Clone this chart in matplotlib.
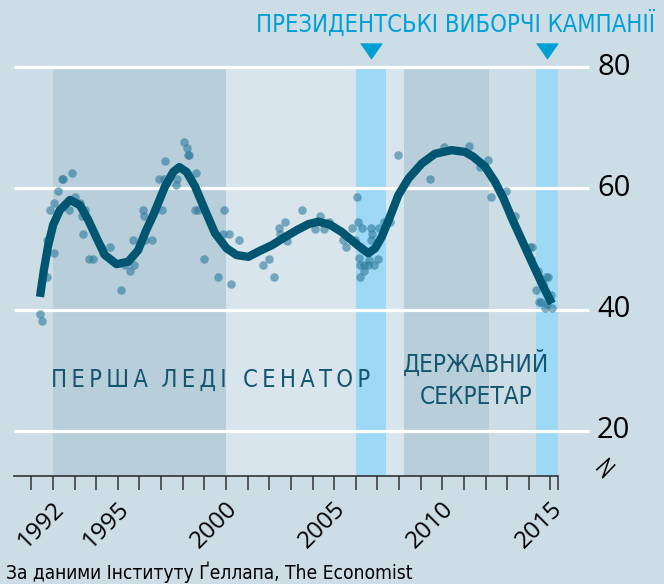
import matplotlib
matplotlib.use("Agg")
import matplotlib.pyplot as plt
from matplotlib import font_manager
from matplotlib.font_manager import FontProperties
from matplotlib.transforms import ScaledTranslation

# polling points (Gallup favourability)
poll_years = [1991.40, 1991.50, 1991.71, 1991.71, 1991.88, 1992.05, 1992.06, 1992.23,
              1992.43, 1992.47, 1992.89, 1992.74, 1993.02, 1993.25, 1993.48, 1993.33,
              1993.37, 1993.68, 1993.84, 1994.20, 1994.64, 1994.33, 1995.33, 1995.56,
              1995.75, 1995.71, 1995.14,
              1996.15, 1996.21, 1997.05, 1996.27, 1996.59, 1996.91, 1997.13, 1997.18,
              1997.69, 1997.75, 1998.06, 1998.18, 1998.24, 1998.28, 1998.61, 1998.56,
              1998.72, 1998.99, 1999.64, 1999.92, 1999.87, 2000.12, 2000.22, 2000.61,
              2001.72, 2001.99, 2002.22, 2002.45, 2002.50, 2002.71, 2002.80, 2003.53,
              2004.13, 2004.35, 2004.53, 2004.78, 2005.42, 2005.53, 2005.81, 2006.05,
              2006.10, 2006.30, 2006.70, 2007.07, 2006.76, 2006.69, 2007.32, 2007.58,
              2006.15, 2006.18, 2006.39, 2006.55, 2006.86, 2007.04, 2006.37, 2006.21,
              2006.60, 2006.24, 2005.96, 2007.94,
              2009.42, 2010.10, 2011.22, 2011.74, 2012.11, 2012.25, 2012.94, 2013.36,
              2014.06, 2014.15, 2014.09, 2014.44, 2014.80, 2014.67, 2014.33, 2015.01,
              2014.45, 2014.55, 2014.83, 2014.75, 2015.06, 2014.90]
poll_values = [39.3, 38.2, 45.3, 51.5, 56.4, 49.4, 57.5, 59.5,
               61.5, 61.5, 62.6, 56.4, 58.5, 57.5, 56.5, 55.4,
               52.4, 48.4, 48.4, 50.4, 50.4, 49.4, 47.4, 46.4,
               47.4, 51.5, 43.2,
               56.5, 55.4, 56.5, 51.4, 51.4, 61.5, 61.5, 64.5,
               60.5, 61.5, 67.6, 66.6, 65.5, 65.5, 62.6, 56.5,
               56.5, 48.4, 45.3, 56.5, 52.4, 52.4, 44.3, 51.4,
               47.4, 48.4, 45.3, 53.4, 52.4, 54.5, 51.3, 56.5,
               53.3, 55.4, 53.3, 54.5, 51.4, 50.4, 53.4, 58.5,
               54.5, 53.4, 53.4, 53.4, 52.4, 51.4, 54.5, 54.5,
               48.5, 47.4, 47.4, 47.4, 47.4, 48.4, 46.4, 45.3,
               48.2, 50.4, 51.5, 65.5,
               61.5, 66.8, 66.9, 63.6, 64.6, 58.5, 59.5, 55.4,
               50.4, 50.4, 48.4, 46.4, 45.3, 44.3, 43.3, 42.4,
               41.3, 41.3, 41.0, 40.2, 40.2, 45.3]

# smoothed trend
trend_years = [1991.40, 1991.58, 1991.78, 1992.01, 1992.32, 1992.79, 1993.25, 1993.63,
               1994.02, 1994.40, 1994.94, 1995.48, 1995.94, 1996.30, 1996.64, 1997.18,
               1997.56, 1997.84, 1998.18, 1998.57, 1999.03, 1999.49, 2000.03, 2000.49,
               2001.03, 2001.57, 2002.11, 2002.65, 2003.27, 2003.81, 2004.27, 2004.81,
               2005.35, 2005.89, 2006.27, 2006.58, 2006.89, 2007.20, 2007.58, 2007.97,
               2008.43, 2009.05, 2009.66, 2010.43, 2011.05, 2011.43, 2011.97, 2012.43,
               2012.82, 2013.21, 2013.67, 2014.13, 2014.60, 2015.06]
trend_values = [42.1, 46.5, 50.6, 54.0, 56.4, 58.1, 57.2, 54.8,
                51.8, 49.0, 47.5, 47.9, 49.8, 53.0, 55.6, 60.3,
                62.7, 63.5, 62.7, 60.3, 56.4, 52.6, 50.1, 49.0,
                48.7, 49.7, 50.6, 51.8, 53.1, 54.1, 54.5, 54.0,
                52.8, 51.2, 50.1, 49.3, 50.1, 52.0, 55.3, 58.9,
                61.6, 64.1, 65.7, 66.3, 66.0, 65.2, 63.6, 61.1,
                58.4, 55.1, 51.5, 47.9, 44.3, 41.0]

# shaded periods: (start, end, colour key)
periods = [(1992.0, 2000.0, "dark"), (2000.0, 2008.23, "light"),
           (2008.23, 2012.16, "dark"), (2006.0, 2007.4, "blue"), (2014.33, 2015.35, "blue")]
campaign_mid = [2006.7, 2014.84]
yticks = [20, 40, 60, 80]
year_ticks = list(range(1991, 2016))
year_labels = {1992: "1992", 1995: "1995", 2000: "2000", 2005: "2005", 2010: "2010", 2015: "2015"}

BG = "#cddde6"
band_colors = {"dark": "#b8cfdb", "light": "#d9e5ed", "blue": "#9dd9f5"}
LINE = "#005670"
DOT = "#2f7b9c"
LABEL = "#15566f"
CYAN = "#00a0d6"


def narrow_font(size):
    # look for any installed condensed / narrow sans face
    cands = []
    for f in font_manager.fontManager.ttflist:
        fn = f.fname.lower()
        if ("narrow" in fn or "condensed" in fn or f.stretch in ("condensed", "semi-condensed")) \
                and "bold" not in fn and "italic" not in fn and "oblique" not in fn \
                and "light" not in fn and "serif" not in fn and "mono" not in fn:
            cands.append(f.fname)
    if cands:
        cands.sort(key=lambda p: ("liberation" not in p.lower(), "dejavu" not in p.lower(), p))
        return FontProperties(fname=cands[0], size=size)
    return None


names = {f.name for f in font_manager.fontManager.ttflist}
NUM = "Open Sans" if "Open Sans" in names else "DejaVu Sans"


def nfont(size, fallback):
    fp = narrow_font(size)
    if fp is None:
        fp = FontProperties(family="Roboto" if "Roboto" in names else "DejaVu Sans", size=fallback)
    return fp


def spaced(s):
    # letter-spaced caps: thin space between letters, wider gap between words
    return "  ".join("\u2009".join(w) for w in s.split(" "))


fig = plt.figure(figsize=(6.64, 5.84), dpi=100, facecolor=BG)
ax = fig.add_axes([0.0211, 0.1849, 0.8666, 0.7034])
ax.set_facecolor(BG)
ax.set_xlim(1990.2, 2016.8)
ax.set_ylim(12.56, 80.3)

for x0, x1, c in periods:
    ax.axvspan(x0, x1, ymin=0, ymax=(80 - 12.56) / (80.3 - 12.56),
               color=band_colors[c], lw=0, zorder=1)

ax.hlines(yticks, 1990.2, 2016.8, color="white", lw=2.3, zorder=2, clip_on=False)

ax.scatter(poll_years, poll_values, s=38, color=DOT, alpha=0.6, lw=0, zorder=3)
ax.plot(trend_years, trend_values, color=LINE, lw=6, solid_capstyle="butt",
        solid_joinstyle="round", zorder=4)

# spines / ticks
for s in ["top", "right", "left"]:
    ax.spines[s].set_visible(False)
ax.spines["bottom"].set_color("#333333")
ax.spines["bottom"].set_linewidth(1.2)
ax.spines["bottom"].set_bounds(1990.2, 2015.35)
ax.set_yticks([])
ax.set_xticks(year_ticks + [2015.35])
ax.set_xticklabels([year_labels.get(y, "") for y in year_ticks] + [""])
ax.tick_params(axis="x", length=10, width=1.1, color="#333333", pad=11)
for lab in ax.get_xticklabels():
    lab.set_rotation(45)
    lab.set_ha("right")
    lab.set_va("center")
    lab.set_rotation_mode("anchor")
    lab.set_fontsize(17.5)
    lab.set_family(NUM)
    lab.set_transform(lab.get_transform() + ScaledTranslation(0.08, 0, fig.dpi_scale_trans))

for v in yticks:
    ax.text(2017.15, v, str(v), fontsize=21, family=NUM, ha="left", va="center",
            color="black", clip_on=False)

# axis break mark
ax.plot([2017.14, 2017.72, 2017.41, 2017.97], [13.60, 15.48, 12.28, 14.38],
        color="black", lw=1.1, clip_on=False)

# campaign markers + title
ax.plot(campaign_mid, [82.7, 82.7], ls="none", marker=[(-1.4, 1), (1.4, 1), (0, -1)],
        ms=16.5, color=CYAN, mew=0, clip_on=False)
fig.text(655 / 664, 1 - 23 / 584, "ПРЕЗИДЕНТСЬКІ ВИБОРЧІ КАМПАНІЇ",
         fontproperties=nfont(17, 14), color=CYAN, ha="right", va="center")

# period labels
ax.text(1995.98, 28.4, spaced("ПЕРША ЛЕДІ"), fontproperties=nfont(17, 14),
        color=LABEL, ha="center", va="center")
ax.text(2003.74, 28.4, spaced("СЕНАТОР"), fontproperties=nfont(17, 14),
        color=LABEL, ha="center", va="center")
ax.text(2011.55, 28.45, "ДЕРЖАВНИЙ\nСЕКРЕТАР", fontproperties=nfont(17.5, 15),
        color=LABEL, ha="center", va="center", linespacing=1.45)

fig.text(6 / 664, 1 - 572 / 584, "За даними Інституту Ґеллапа, The Economist",
         fontproperties=nfont(13.8, 12), color="black", ha="left", va="center")

fig.savefig("out.png", dpi=100, facecolor=BG)
